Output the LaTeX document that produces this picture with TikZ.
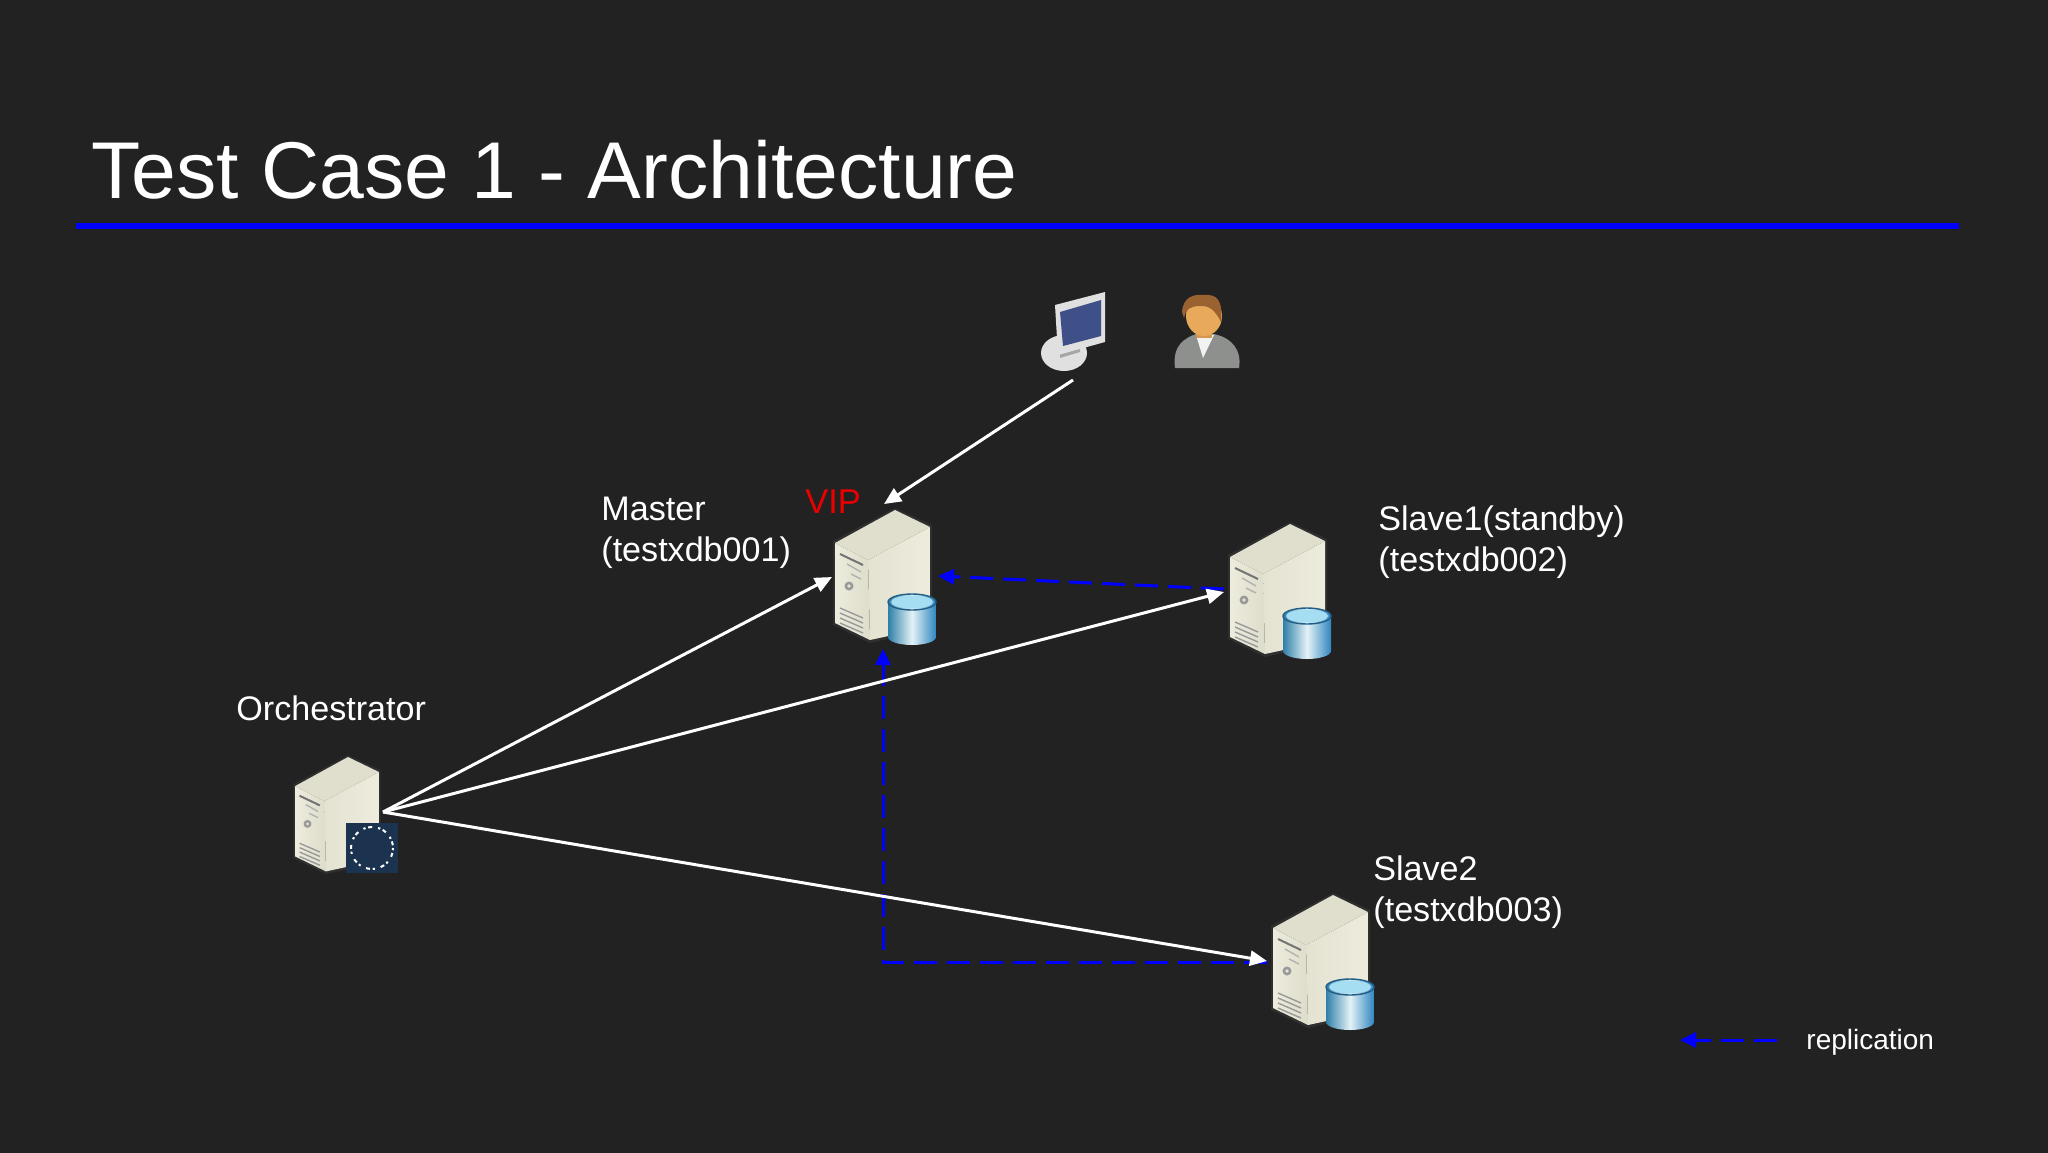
\documentclass[tikz,border=0pt]{standalone}
\usepackage{fontspec}
\setmainfont{Liberation Sans}
\usetikzlibrary{arrows.meta,calc}
\definecolor{bgc}{HTML}{222223}
\definecolor{repl}{HTML}{0000FF}
\definecolor{navy}{HTML}{1C3350}
\definecolor{srvfront}{HTML}{E6E5D4}
\definecolor{srvfrontb}{HTML}{DEDDCB}
\definecolor{srvtop}{HTML}{E0DFCE}
\definecolor{srvside}{HTML}{E4E3D2}
\definecolor{srvsideb}{HTML}{EDECDD}
\definecolor{cylL}{HTML}{2F7FA8}
\definecolor{cylM}{HTML}{E4F2F7}
\definecolor{cylR}{HTML}{2F86C0}
\definecolor{cylT}{HTML}{A5DDF3}
\definecolor{scr}{HTML}{3F4F88}
\definecolor{hair}{HTML}{9A6230}
\definecolor{skin}{HTML}{E9A95A}
\definecolor{suit}{HTML}{8E908E}
\tikzset{
  x=0.5pt,y=-0.5pt,
  lbl/.style={anchor=base west,inner sep=0pt,text=white,font=\fontsize{17.05pt}{20pt}\selectfont},
  ttl/.style={anchor=base west,inner sep=0pt,text=white,font=\fontsize{40.25pt}{46pt}\selectfont},
  vip/.style={anchor=base west,inner sep=0pt,text=red!92!black,font=\fontsize{17.2pt}{22pt}\selectfont},
  legendtxt/.style={anchor=base west,inner sep=0pt,text=white,font=\fontsize{14pt}{17pt}\selectfont},
  iconbox/.style={inner sep=0pt,draw=none},
  ctl/.style={draw=white,line width=1.5pt,-{Triangle[length=8.5pt,width=7.5pt]}},
  rep/.style={draw=repl,line width=1.5pt,dash pattern=on 11.5pt off 5pt,-{Triangle[length=8pt,width=7.5pt]}},
  pics/server/.style={code={
    \fill[white,opacity=.06] (0,-2)--(37,15)--(37,119)--(-25,133)--(-62,115)--(-62,31)--cycle;
    \shade[left color=srvside,right color=srvsideb] (35,17)--(35,117)--(-25,130)--(-27,50)--cycle;
    \shade[left color=srvsideb,right color=srvfrontb] (-60,33)--(-27,50)--(-25,130)--(-60,113)--cycle;
    \fill[srvtop] (0,0)--(35,17)--(-27,50)--(-60,33)--cycle;
    \draw[black!55,line width=1pt] (-55,44)--(-32,55);
    \draw[black!30,line width=.7pt] (-48,54)--(-34,62) (-44,64)--(-34,69);
    \fill[black!40] (-46,76) circle[radius=4.5];
    \fill[srvfront] (-46,76) circle[radius=1.8];
    \foreach \d in {0,5,10,15}{\draw[black!40,line width=.7pt] (-55,98+\d)--(-32,108+\d);}
  }},
  pics/dbcyl/.style={code={
    \shade[left color=cylL,right color=cylR,middle color=cylM]
      (-7,92) -- (-7,127) arc[start angle=180,end angle=0,x radius=24,y radius=8] -- (41,92) arc[start angle=0,end angle=-180,x radius=24,y radius=8] -- cycle;
    \fill[cylT] (17,92) ellipse[x radius=21,y radius=6.5];
    \draw[cylR!70!black,line width=.7pt] (17,92) ellipse[x radius=24,y radius=8];
  }}
}
\begin{document}
\begin{tikzpicture}
\useasboundingbox (0,0) rectangle (2048,1152);
\fill[bgc] (-6,-6) rectangle (2054,1158);

% title
\node[ttl] (title) at (91,198) {Test Case 1 - Architecture};
\fill[blue] (76,222.5) -- (1959,222.5) -- (1959,228.5) -- (76,228.5) -- cycle;

% servers
\pic at (895,510) {server};
\pic at (895,510) {dbcyl};
\pic at (1290,524) {server};
\pic at (1290,524) {dbcyl};
\pic at (1333,895) {server};
\pic at (1333,895) {dbcyl};
\pic[scale=.88] at (348,757) {server};

% orchestrator badge
\fill[navy] (346,823) rectangle (398,873);
\draw[white,line width=1pt,dash pattern=on 1.1pt off 1.4pt on 2pt off 3pt] (372,848) circle[radius=21];

% icon anchors
\node[iconbox,minimum width=45pt,minimum height=66pt] (master) at (884,577) {};
\node[iconbox,minimum width=45pt,minimum height=66pt] (slaveone) at (1280,590) {};
\node[iconbox,minimum width=45pt,minimum height=66pt] (slavetwo) at (1321,961) {};
\node[iconbox,minimum width=48pt,minimum height=40pt] (pc) at (1073,335) {};
\node[iconbox,minimum width=42pt,minimum height=48pt] (orch) at (340,812) {};
\coordinate (pcout) at (1073,380);
\coordinate (mtop) at (884,504);
\coordinate (mleft) at (832,577);
\coordinate (mright) at (938,576);
\coordinate (mbottom) at (883,649);
\coordinate (oneleft) at (1224,592);
\coordinate (oneleftb) at (1224,589);
\coordinate (twoleft) at (1267,961);
\coordinate (twoleftb) at (1267,962);
\coordinate (oright) at (383,812);
\coordinate (bend) at (883,962);
\coordinate (legfrom) at (1777,1040);
\coordinate (legto) at (1680,1040);

% monitor
\fill[black!12] (1064,353) ellipse[x radius=23,y radius=18];
\fill[black!35] (1060,345) -- (1080,340) -- (1080,352) -- (1060,358) -- cycle;
\fill[black!12] (1055,305) -- (1105,292) -- (1105,342) -- (1058,355) -- cycle;
\fill[scr] (1060,312) -- (1101,300) -- (1101,336) -- (1063,346) -- cycle;

% person
\node[iconbox,minimum width=32pt,minimum height=32pt] (person) at (1207,333) {};
\fill[suit] (1175,368) .. controls (1172,345) and (1185,338) .. (1196,334) -- (1214,334) .. controls (1232,338) and (1242,350) .. (1239,368) -- cycle;
\fill[white!90!gray] (1196,335) -- (1214,335) -- (1203,358) -- cycle;
\fill[skin!90!black] (1196,325) rectangle (1212,338);
\fill[skin] (1204,316) ellipse[x radius=18,y radius=20];
\fill[hair] (1182,312) .. controls (1183,296) and (1195,294) .. (1204,295) .. controls (1217,294) and (1223,300) .. (1221,322) .. controls (1216,312) and (1210,305) .. (1200,306) .. controls (1192,306) and (1186,308) .. (1184,318) -- cycle;

% replication
\draw[rep] (oneleftb) -- (mright);
\draw[rep] (twoleftb) -- (bend) -- (mbottom);
\draw[rep] (legfrom) -- (legto);

% control links
\draw[ctl] (pcout) -- (mtop);
\draw[ctl] (oright) -- (mleft);
\draw[ctl] (oright) -- (oneleft);
\draw[ctl] (oright) -- (twoleft);

% labels
\node[lbl] (lmaster) at (601,520) {Master};
\node[lbl] (lmasterb) at (601,561) {(testxdb001)};
\node[vip] (lvip) at (805,513) {VIP};
\node[lbl] (lone) at (1378,530) {Slave1(standby)};
\node[lbl] (loneb) at (1378,571) {(testxdb002)};
\node[lbl] (ltwo) at (1373,880) {Slave2};
\node[lbl] (ltwob) at (1373,921) {(testxdb003)};
\node[lbl] (lorch) at (236,720) {Orchestrator};
\node[legendtxt] (lrepl) at (1806,1049) {replication};
\end{tikzpicture}
\end{document}
